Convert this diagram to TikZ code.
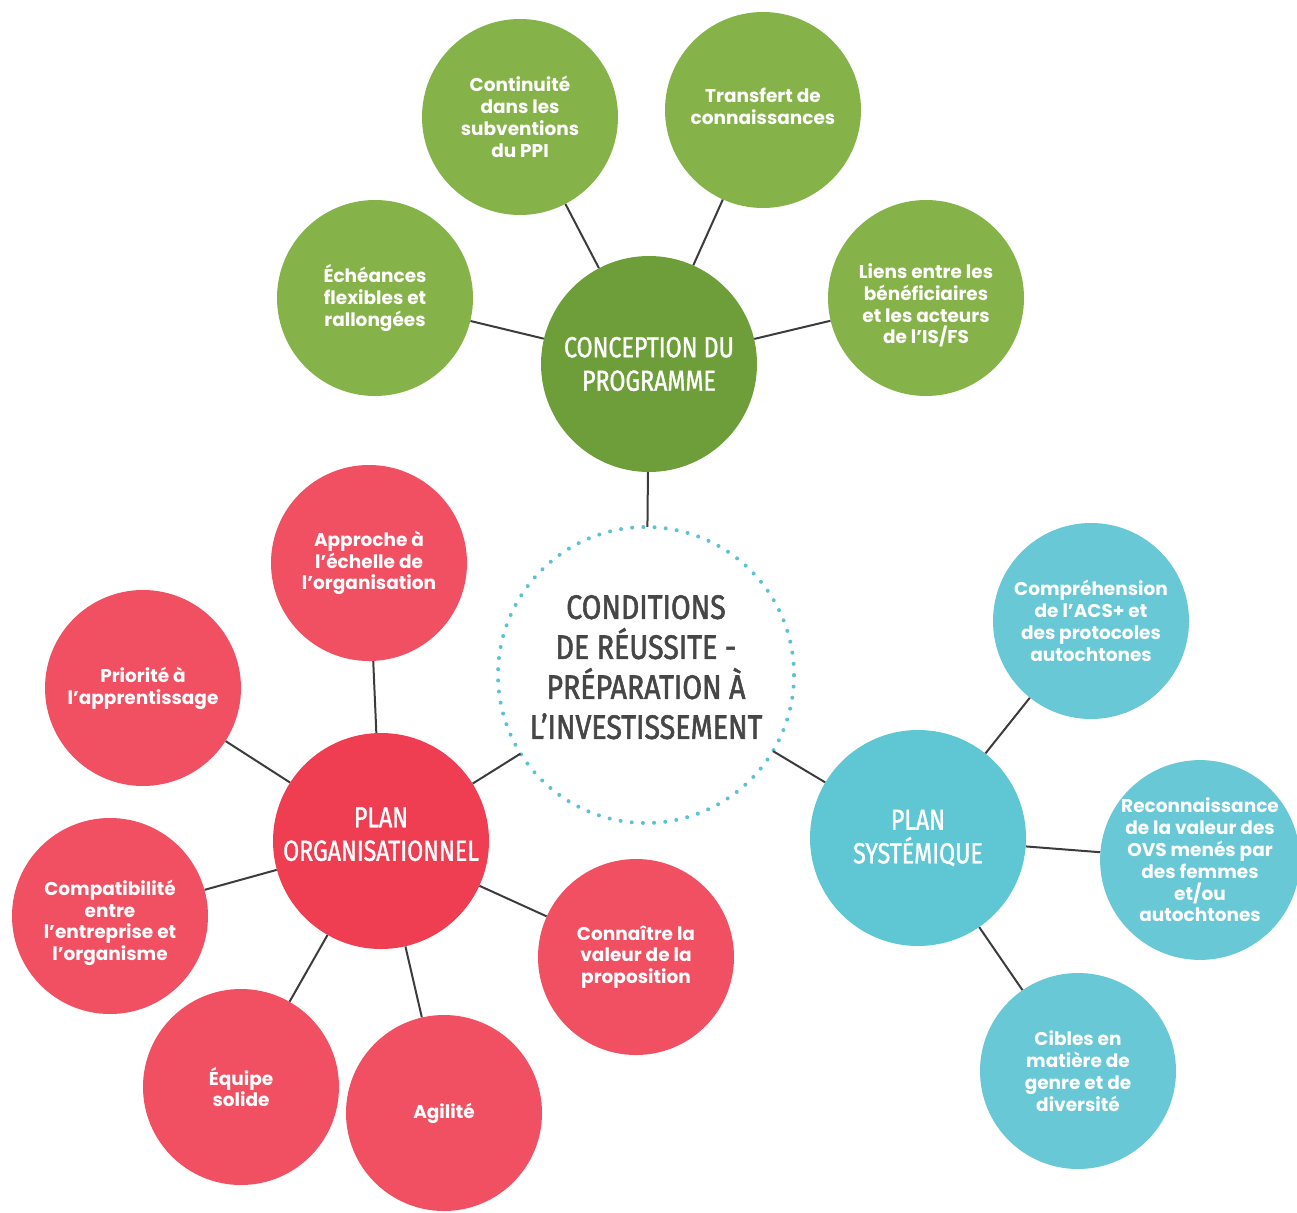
\documentclass[tikz,border=0pt]{standalone}
\usepackage{fontspec}
\setmainfont{Poppins}
\newfontfamily\condfont[FakeStretch=0.80,FakeBold=1.2]{Fira Sans}
\newfontfamily\ctrfont[FakeStretch=0.84,FakeBold=1.6]{Fira Sans}
\newcommand\lowerby[1]{\rule[-#1]{0pt}{#1}}
\definecolor{gmain}{HTML}{6E9E3A}
\definecolor{glight}{HTML}{86B24A}
\definecolor{rmain}{HTML}{EF3E52}
\definecolor{rlight}{HTML}{F05062}
\definecolor{cmain}{HTML}{5FC6D4}
\definecolor{clight}{HTML}{68C8D6}
\definecolor{linec}{HTML}{3C3C3C}
\definecolor{ctext}{HTML}{464646}
\definecolor{dotc}{HTML}{5BC2D2}
\tikzset{
  bubble/.style={circle, inner sep=0pt, text=white, align=center,
    font=\bfseries\fontsize{18.5}{21.8}\selectfont, minimum size=196pt},
  hub/.style={circle, inner sep=0pt, text=white, align=center,
    font=\condfont\fontsize{29}{33.5}\selectfont, minimum size=216pt},
  conn/.style={draw=linec, line width=2pt}
}
\begin{document}
\begin{tikzpicture}[x=1pt,y=-1pt]
\useasboundingbox (0,0) rectangle (1297,1212);
% centre
\node[circle, minimum size=296pt, inner sep=0pt, text=ctext, align=center,
  font=\ctrfont\fontsize{34}{40}\selectfont] (ctr) at (646,675)
  {CONDITIONS\\DE RÉUSSITE -\\PRÉPARATION À\\L’INVESTISSEMENT\lowerby{16pt}};
% hubs
\node[hub, fill=gmain] (prog) at (649,364) {CONCEPTION DU\\PROGRAMME};
\node[hub, fill=rmain] (org) at (381,841) {PLAN\\ORGANISATIONNEL\lowerby{14pt}};
\node[hub, fill=cmain] (sys) at (918,838) {PLAN\\SYSTÉMIQUE};
% green bubbles
\node[bubble, fill=glight] (cont) at (520,117) {Continuité\\dans les\\subventions\\du PPI};
\node[bubble, fill=glight] (tran) at (763,110) {Transfert de\\connaissances\lowerby{8pt}};
\node[bubble, fill=glight] (eche) at (375,298) {Échéances\\flexibles et\\rallongées};
\node[bubble, fill=glight] (lien) at (926,298) {\rule{0pt}{30pt}Liens entre les\\bénéficiaires\\et les acteurs\\de l’IS/FS};
% red bubbles
\node[bubble, fill=rlight] (appr) at (369,563) {Approche à\\l’échelle de\\l’organisation};
\node[bubble, fill=rlight] (prio) at (143,688) {Priorité à\\l’apprentissage};
\node[bubble, fill=rlight] (comp) at (110,916) {\rule{0pt}{29pt}Compatibilité\\entre\\l’entreprise et\\l’organisme};
\node[bubble, fill=rlight] (equi) at (241,1087) {Équipe\\solide};
\node[bubble, fill=rlight] (agil) at (444,1113) {Agilité};
\node[bubble, fill=rlight] (conn) at (636,957) {Connaître la\\valeur de la\\proposition};
% cyan bubbles
\node[bubble, fill=clight] (acs) at (1091,621) {Compréhension\\de l’ACS+ et\\des protocoles\\autochtones};
\node[bubble, fill=clight] (ovs) at (1200,860) {Reconnaissance\\de la valeur des\\OVS menés par\\des femmes\\et/ou\\autochtones};
\node[bubble, fill=clight] (cibl) at (1078,1071) {Cibles en\\matière de\\genre et de\\diversité};
% dotted ring
\draw[dotc, line width=4pt, line cap=round, dash pattern=on 0pt off 11.2pt] (ctr.center) circle[radius=148pt];
% connectors
\draw[conn] (ctr) -- (prog);
\draw[conn] (ctr) -- (org);
\draw[conn] (ctr) -- (sys);
\draw[conn] (prog) -- (cont);
\draw[conn] (prog) -- (tran);
\draw[conn] (prog) -- (eche);
\draw[conn] (prog) -- (lien);
\draw[conn] (org) -- (appr);
\draw[conn] (org) -- (prio);
\draw[conn] (org) -- (comp);
\draw[conn] (org) -- (equi);
\draw[conn] (org) -- (agil);
\draw[conn] (org) -- (conn);
\draw[conn] (sys) -- (acs);
\draw[conn] (sys) -- (ovs);
\draw[conn] (sys) -- (cibl);
\end{tikzpicture}
\end{document}
